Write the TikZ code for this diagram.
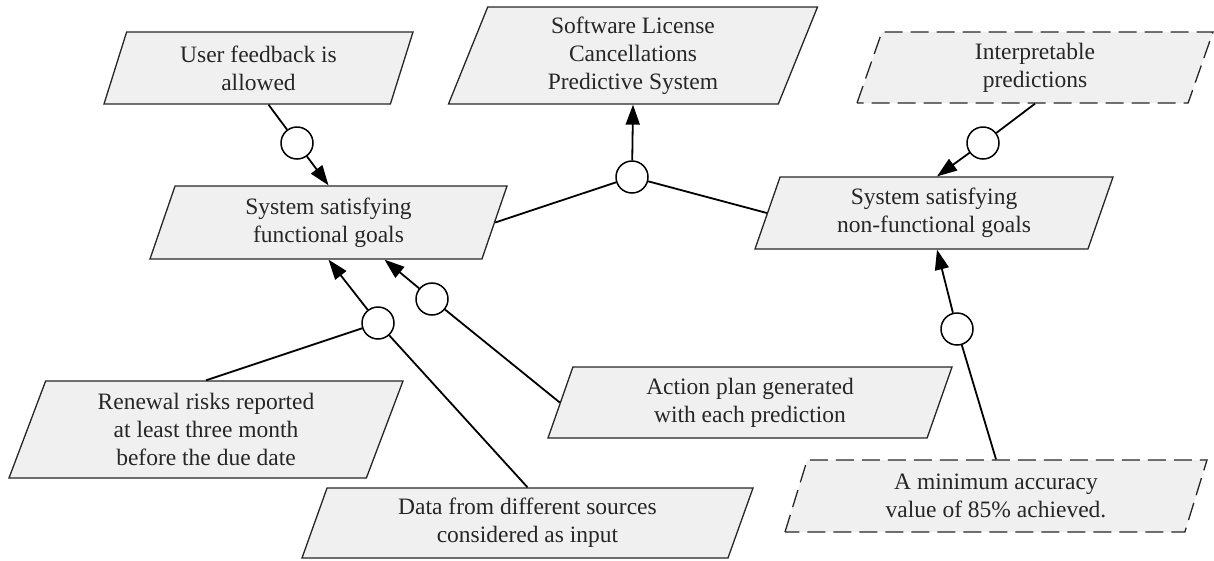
\documentclass[tikz,border=0pt]{standalone}
\usepackage{fontspec}
\setmainfont{Liberation Serif}
\usetikzlibrary{arrows.meta}
\usetikzlibrary{shapes.geometric}

\begin{document}
\begin{tikzpicture}[x=1pt, y=-1pt, >={Triangle[length=20pt, width=14pt]},
  goal/.style={draw=black!85, fill=black!6, line width=1.3pt, trapezium,
    trapezium left angle=63.2, trapezium right angle=116.8, trapezium stretches body,
    inner sep=0pt, align=center, text=black!85, font=\fontsize{23.5}{28}\selectfont},
  softgoal/.style={goal, dash pattern=on 18pt off 8pt},
  link/.style={line width=1.8pt},
  andor/.style={draw, circle, fill=white, line width=1.5pt, minimum size=32pt, inner sep=0pt}]

  \useasboundingbox (0,0) rectangle (1214,560);

  % ---------- Top row ----------
  \node[goal, minimum width=309pt, minimum height=72pt] (feedback) at (258.5,68) {User feedback is\\allowed};
  \node[goal, minimum width=369pt, minimum height=97pt] (software) at (633,55.5) {Software License\\Cancellations\\Predictive System};
  \node[softgoal, minimum width=356pt, minimum height=71pt] (interp) at (1035,67.5) {Interpretable\\predictions};

  % ---------- Middle row ----------
  \node[goal, minimum width=357pt, minimum height=73pt] (functional) at (328.5,222.5) {System satisfying\\functional goals};
  \node[goal, minimum width=358pt, minimum height=72pt] (nonfunc) at (934,213) {System satisfying\\non-functional goals};

  % ---------- Bottom row ----------
  \node[goal, minimum width=394pt, minimum height=97pt] (renewal) at (206,429.5) {Renewal risks reported\\at least three month\\before the due date};
  \node[goal, minimum width=404pt, minimum height=71pt] (action) at (750,402.5) {Action plan generated\\with each prediction};
  \node[goal, minimum width=451pt, minimum height=70pt] (data) at (527.5,523) {Data from different sources\\considered as input};
  \node[softgoal, minimum width=422pt, minimum height=72pt] (accuracy) at (996,496) {A minimum accuracy\\value of 85\% achieved.};

  % ---------- Decomposition circles ----------
  \node[andor] (cfb) at (297,143) {};
  \node[andor] (csw) at (632,177) {};
  \node[andor] (cint) at (983,143) {};
  \node[andor] (cfun1) at (378,323) {};
  \node[andor] (cfun2) at (432,299) {};
  \node[andor] (cacc) at (957,329) {};

  % ---------- Links ----------
  \draw[link] ([xshift=10pt]feedback.south) -- (cfb);
  \draw[link, ->] (cfb) -- (functional.north);

  \draw[link] (functional.east) -- (csw) -- (nonfunc.west);
  \draw[link, ->] (csw) -- (software.south);

  \draw[link] (interp.south) -- (cint);
  \draw[link, ->] (cint) -- ([xshift=3pt]nonfunc.north);

  \draw[link] (renewal.north) -- (cfun1);
  \draw[link] (data.north) -- (cfun1);
  \draw[link, ->] (cfun1) -- (functional.south);

  \draw[link] (action.west) -- (cfun2);
  \draw[link, ->] (cfun2) -- ([xshift=56pt]functional.south);

  \draw[link] (accuracy.north) -- (cacc);
  \draw[link, ->] (cacc) -- ([xshift=3pt]nonfunc.south);

\end{tikzpicture}
\end{document}
